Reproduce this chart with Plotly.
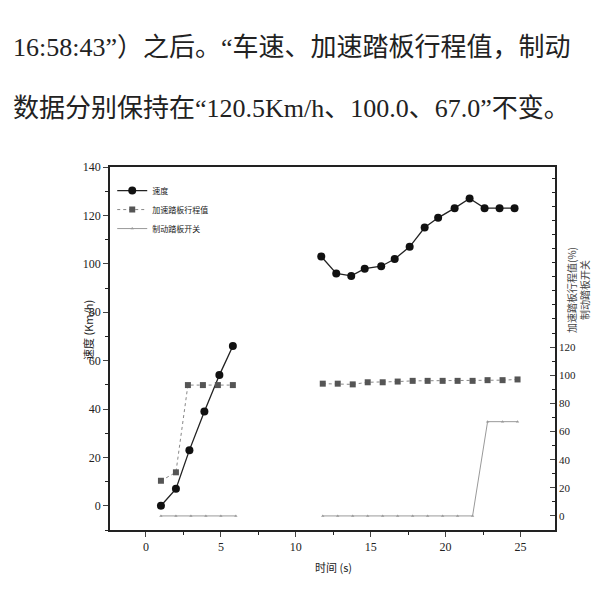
import plotly.graph_objects as go

# ---- data ----
speed_t1 = [1, 2, 2.9, 3.9, 4.9, 5.8]
speed_v1 = [0, 7, 23, 39, 54, 66]
speed_t2 = [11.7, 12.7, 13.7, 14.6, 15.7, 16.6, 17.6, 18.6, 19.5, 20.6, 21.6, 22.6, 23.6, 24.6]
speed_v2 = [103, 96, 95, 98, 99, 102, 107, 115, 119, 123, 127, 123, 123, 123]

accel_t1 = [1, 2, 2.8, 3.8, 4.8, 5.8]
accel_v1 = [25, 31, 93, 93, 93, 93]
accel_t2 = [11.8, 12.8, 13.8, 14.8, 15.8, 16.8, 17.8, 18.8, 19.8, 20.8, 21.8, 22.8, 23.8, 24.8]
accel_v2 = [94, 94, 93.5, 95, 95, 95.5, 96, 96, 96, 96, 96, 96.5, 96.5, 97]

brake_t1 = [1, 2, 3, 4, 5, 6]
brake_v1 = [0, 0, 0, 0, 0, 0]
brake_t2 = [11.8, 12.8, 13.8, 14.8, 15.8, 16.8, 17.8, 18.8, 19.8, 20.8, 21.8, 22.8, 23.8, 24.8]
brake_v2 = [0, 0, 0, 0, 0, 0, 0, 0, 0, 0, 0, 67, 67, 67]

x_ticks = [0, 5, 10, 15, 20, 25]
left_ticks = [0, 20, 40, 60, 80, 100, 120, 140]
right_ticks = [0, 20, 40, 60, 80, 100, 120]

legend_names = ["速度", "加速踏板行程值", "制动踏板开关"]
line1 = "16:58:43”）之后。“车速、加速踏板行程值，制动"
line2 = "数据分别保持在“120.5Km/h、100.0、67.0”不变。"
x_title = "时间 (s)"
y_title = "速度 (Km/h)"
y2_title = "加速踏板行程值(%)<br>制动踏板开关"

FONT = "Liberation Serif, Noto Sans CJK SC"
CJK = "Noto Sans CJK SC, Liberation Serif"
TXT = "Liberation Serif, Noto Sans CJK SC"

fig = go.Figure()

# speed
for i, (t, v) in enumerate([(speed_t1, speed_v1), (speed_t2, speed_v2)]):
    fig.add_trace(go.Scatter(
        x=t, y=v, mode="lines+markers", name=legend_names[0],
        legendgroup="s", showlegend=(i == 0),
        line=dict(color="#222", width=1.3),
        marker=dict(symbol="circle", size=8, color="#111"),
    ))
# accelerator
for i, (t, v) in enumerate([(accel_t1, accel_v1), (accel_t2, accel_v2)]):
    fig.add_trace(go.Scatter(
        x=t, y=v, mode="lines+markers", name=legend_names[1], yaxis="y2",
        legendgroup="a", showlegend=(i == 0),
        line=dict(color="#888", width=1, dash="dot"),
        marker=dict(symbol="square", size=6, color="#555"),
    ))
# brake
for i, (t, v) in enumerate([(brake_t1, brake_v1), (brake_t2, brake_v2)]):
    fig.add_trace(go.Scatter(
        x=t, y=v, mode="lines+markers", name=legend_names[2], yaxis="y2",
        legendgroup="b", showlegend=(i == 0),
        line=dict(color="#999", width=1),
        marker=dict(symbol="triangle-up", size=3, color="#999"),
    ))

fig.update_layout(
    width=600, height=600,
    margin=dict(l=102, r=53, t=159, b=78),
    paper_bgcolor="white", plot_bgcolor="white",
    font=dict(family=FONT, size=11, color="#222"),
    xaxis=dict(
        range=[-2.4, 27.3], tickvals=x_ticks, ticks="outside", ticklen=5,
        showline=True, linecolor="#222", linewidth=1.5, mirror=True,
        showgrid=False, zeroline=False,
        minor=dict(ticks="outside", ticklen=3, dtick=2.5, tickcolor="#222"),
        tickfont=dict(size=12, family=FONT),
    ),
    yaxis=dict(
        range=[-10, 140], tickvals=left_ticks, ticks="outside", ticklen=5,
        showline=True, linecolor="#222", linewidth=1.5,
        showgrid=False, zeroline=False,
        minor=dict(ticks="outside", ticklen=3, dtick=10, tickcolor="#222"),
        tickfont=dict(size=12, family=FONT),
    ),
    yaxis2=dict(
        range=[-10, 248], tickvals=right_ticks, overlaying="y", side="right",
        ticks="inside", ticklen=5,
        showline=True, linecolor="#222", linewidth=1.5,
        showgrid=False, zeroline=False,
        minor=dict(ticks="inside", ticklen=3, dtick=10, tickcolor="#222"),
        tickfont=dict(size=11, family=FONT),
    ),
    legend=dict(
        x=0.005, y=0.975, xanchor="left", yanchor="top",
        bgcolor="rgba(0,0,0,0)", font=dict(size=8, family=CJK),
        itemwidth=30, tracegroupgap=0,
    ),
    showlegend=True,
)

W, L = 445.0, 110.0
H, B = 363.0, 530.0
def px(x):
    return (x - L) / W
def py(y):
    return (B - y) / H

fig.add_annotation(text=line1, xref="paper", yref="paper", x=px(11), y=py(47),
                   xanchor="left", yanchor="middle", showarrow=False,
                   font=dict(size=26, family=TXT, color="#222"))
fig.add_annotation(text=line2, xref="paper", yref="paper", x=px(11), y=py(108),
                   xanchor="left", yanchor="middle", showarrow=False,
                   font=dict(size=26, family=TXT, color="#222"))
fig.add_annotation(text=x_title, xref="paper", yref="paper", x=px(333), y=py(567),
                   xanchor="center", yanchor="middle", showarrow=False,
                   font=dict(size=11, family=CJK, color="#222"))
fig.add_annotation(text=y_title, xref="paper", yref="paper", x=px(88), y=py(330),
                   xanchor="center", yanchor="middle", showarrow=False, textangle=-90,
                   font=dict(size=11, family=CJK, color="#222"))
fig.add_annotation(text=y2_title, xref="paper", yref="paper", x=px(578), y=py(290),
                   xanchor="center", yanchor="middle", showarrow=False, textangle=-90,
                   font=dict(size=10, family=CJK, color="#444"))

fig.write_html("out.html")
